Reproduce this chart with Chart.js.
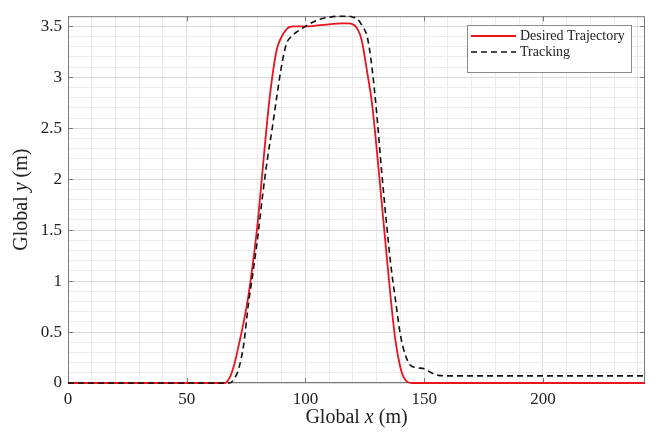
<!DOCTYPE html>
<html>
    <head>
        <meta charset="utf-8">
        <title>Trajectory Tracking</title>
        <script src="https://cdn.jsdelivr.net/npm/chart.js@4.4.1/dist/chart.umd.min.js"></script>
        <style>
            html, body { margin: 0; padding: 0; background: #fff; }
            #wrap { width: 664px; height: 432px; }
        </style>
    </head>
    <body>
        <div id="wrap"><canvas id="myChart" width="664" height="432"></canvas></div>

        <script>
        // desired trajectory (red)
        const xDesired = [0, 60, 66, 68, 70, 72, 74, 76, 78, 80, 82, 84, 86, 88, 90, 92, 93, 95, 100, 105, 110, 115, 118, 120, 121.5, 123, 124, 126, 128, 130, 132, 134, 136, 138, 140, 141.5, 143, 145, 243];
        const yDesired = [0, 0, 0, 0.05, 0.18, 0.38, 0.6, 0.86, 1.2, 1.6, 2.1, 2.6, 3.0, 3.28, 3.4, 3.47, 3.49, 3.5, 3.5, 3.51, 3.52, 3.53, 3.53, 3.52, 3.49, 3.42, 3.33, 3.05, 2.75, 2.3, 1.8, 1.3, 0.81, 0.4, 0.15, 0.05, 0.01, 0, 0];

        // tracking (black dashed)
        const xTracking = [0, 60, 68, 70, 72, 74, 76, 78, 80, 82, 84, 86, 88, 90, 92, 94, 96, 98, 100, 103, 106, 110, 114, 118, 120, 122, 124, 126, 128, 130, 132, 134, 136, 138, 140, 142, 144, 147, 150, 153, 156, 160, 200, 243];
        const yTracking = [0, 0, 0, 0.04, 0.15, 0.38, 0.78, 1.1, 1.45, 1.85, 2.2, 2.5, 2.82, 3.12, 3.33, 3.4, 3.44, 3.47, 3.5, 3.54, 3.57, 3.59, 3.6, 3.6, 3.59, 3.57, 3.5, 3.4, 3.1, 2.65, 2.1, 1.6, 1.15, 0.8, 0.47, 0.28, 0.18, 0.15, 0.14, 0.1, 0.075, 0.07, 0.07, 0.07];

        const xMajor = [0, 50, 100, 150, 200];
        const yMajor = [0, 0.5, 1, 1.5, 2, 2.5, 3, 3.5];

        function toPoints(xs, ys) {
            return xs.map(function (x, i) { return {x: x, y: ys[i]}; });
        }

        const serif = "'Liberation Serif', 'DejaVu Serif', serif";

        // box, inward ticks and axis titles under the lines, legend on top
        const decorations = {
            id: 'decorations',
            beforeDatasetsDraw: function (chart) {
                const c = chart.ctx;
                const a = chart.chartArea;
                const sx = chart.scales.x, sy = chart.scales.y;
                c.save();
                c.strokeStyle = '#7a7a7a';
                c.lineWidth = 1;
                c.strokeRect(a.left + 0.5, a.top + 0.5, a.right - a.left - 1, a.bottom - a.top - 1);
                c.beginPath();
                xMajor.forEach(function (v) {
                    const px = Math.round(sx.getPixelForValue(v)) + 0.5;
                    c.moveTo(px, a.bottom); c.lineTo(px, a.bottom - 5);
                    c.moveTo(px, a.top); c.lineTo(px, a.top + 5);
                });
                yMajor.forEach(function (v) {
                    const py = Math.round(sy.getPixelForValue(v)) + 0.5;
                    c.moveTo(a.left, py); c.lineTo(a.left + 5, py);
                    c.moveTo(a.right, py); c.lineTo(a.right - 5, py);
                });
                c.stroke();

                // axis titles with italic variable
                c.fillStyle = '#222';
                c.textBaseline = 'middle';
                function mixed(parts, cx, cy) {
                    let w = 0;
                    parts.forEach(function (p) { c.font = p[1] + ' 20px ' + serif; w += c.measureText(p[0]).width; });
                    let x = cx - w / 2;
                    c.textAlign = 'left';
                    parts.forEach(function (p) {
                        c.font = p[1] + ' 20px ' + serif;
                        c.fillText(p[0], x, cy);
                        x += c.measureText(p[0]).width;
                    });
                }
                mixed([['Global ', 'normal'], ['x', 'italic'], [' (m)', 'normal']], (a.left + a.right) / 2, 418);
                c.save();
                c.translate(22, (a.top + a.bottom) / 2);
                c.rotate(-Math.PI / 2);
                mixed([['Global ', 'normal'], ['y', 'italic'], [' (m)', 'normal']], 0, 0);
                c.restore();
                c.restore();
            },
            afterDraw: function (chart) {
                const c = chart.ctx;
                c.save();
                const lx = 467, ly = 25, lw = 164, lh = 47;
                c.fillStyle = '#fff';
                c.fillRect(lx, ly, lw, lh);
                c.strokeStyle = '#8a8a8a';
                c.lineWidth = 1;
                c.strokeRect(lx + 0.5, ly + 0.5, lw, lh);
                chart.data.datasets.forEach(function (ds, i) {
                    const yy = 36 + i * 16;
                    c.strokeStyle = ds.borderColor;
                    c.lineWidth = ds.borderWidth;
                    c.setLineDash(ds.borderDash || []);
                    c.beginPath();
                    c.moveTo(471, yy); c.lineTo(516, yy);
                    c.stroke();
                    c.setLineDash([]);
                    c.fillStyle = '#222';
                    c.font = '14px ' + serif;
                    c.textAlign = 'left';
                    c.textBaseline = 'middle';
                    c.fillText(ds.label, 520, yy);
                });
                c.restore();
            }
        };

        const ctx = document.getElementById('myChart').getContext('2d');
        let myChart = new Chart(ctx, {
            type: 'line',
            data: {
                datasets: [{
                    label: 'Desired Trajectory',
                    data: toPoints(xDesired, yDesired),
                    borderColor: '#e8141e',
                    borderWidth: 1.8,
                    pointRadius: 0,
                    cubicInterpolationMode: 'monotone',
                    clip: 4,
                    order: 2,
                    fill: false
                }, {
                    label: 'Tracking',
                    data: toPoints(xTracking, yTracking),
                    borderColor: '#111111',
                    borderWidth: 1.6,
                    borderDash: [6, 4],
                    pointRadius: 0,
                    cubicInterpolationMode: 'monotone',
                    clip: 4,
                    order: 1,
                    fill: false
                }]
            },
            options: {
                responsive: false,
                animation: false,
                layout: { padding: { top: 12, right: 19, left: 0, bottom: 0 } },
                plugins: { legend: { display: false }, tooltip: { enabled: false } },
                scales: {
                    x: {
                        type: 'linear',
                        min: 0,
                        max: 243,
                        afterFit: function (s) { s.height = 49; },
                        afterBuildTicks: function (s) {
                            const t = [];
                            for (let v = 0; v <= 240; v += 10) t.push({value: v});
                            s.ticks = t;
                        },
                        grid: {
                            drawTicks: false,
                            color: function (c) { return c.tick && c.tick.value % 50 === 0 ? '#dadada' : '#ececec'; }
                        },
                        border: { display: false },
                        ticks: {
                            padding: 6,
                            color: '#222',
                            font: { family: serif, size: 17 },
                            maxRotation: 0,
                            autoSkip: false,
                            callback: function (v) { return v % 50 === 0 ? String(v) : ''; }
                        }
                    },
                    y: {
                        min: 0,
                        max: 3.6,
                        afterFit: function (s) { s.width = 68; },
                        afterBuildTicks: function (s) {
                            const t = [];
                            for (let k = 0; k <= 36; k++) t.push({value: k / 10});
                            s.ticks = t;
                        },
                        grid: {
                            drawTicks: false,
                            color: function (c) { return c.tick && Math.round(c.tick.value * 10) % 5 === 0 ? '#dadada' : '#ececec'; }
                        },
                        border: { display: false },
                        ticks: {
                            padding: 6,
                            color: '#222',
                            font: { family: serif, size: 17 },
                            autoSkip: false,
                            callback: function (v) {
                                const k = Math.round(v * 10);
                                return k % 5 === 0 ? String(k / 10) : '';
                            }
                        }
                    }
                }
            },
            plugins: [decorations]
        });
        </script>
    </body>
</html>
